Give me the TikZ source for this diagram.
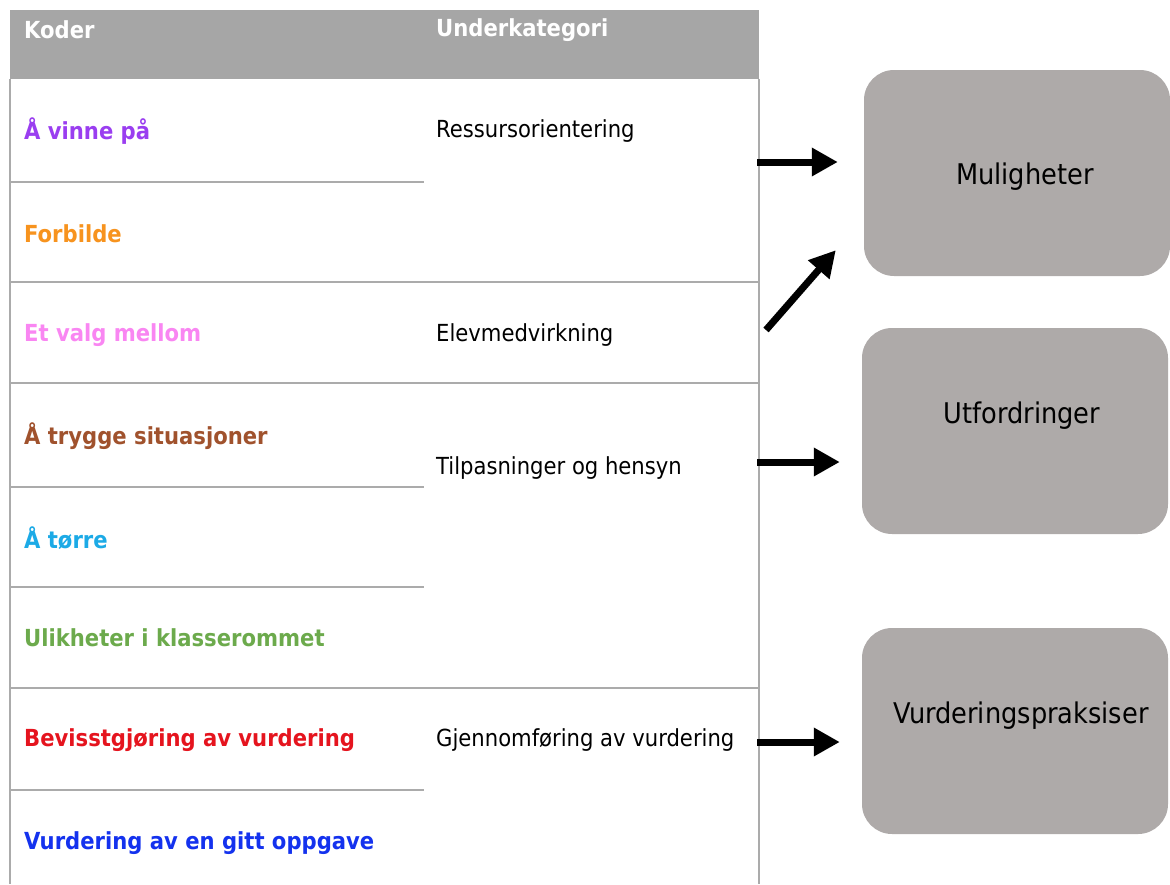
\documentclass[tikz,border=0pt]{standalone}
\usepackage{fontspec}
\setmainfont{DejaVu Sans Condensed}
\usepackage{xcolor}
\usetikzlibrary{arrows.meta}

\definecolor{hodegraa}{HTML}{A6A6A6}
\definecolor{linjegraa}{HTML}{ABABAB}
\definecolor{boksgraa}{HTML}{AEAAA9}
\definecolor{lilla}{HTML}{9A3EF0}
\definecolor{oransje}{HTML}{F7931E}
\definecolor{rosa}{HTML}{F986F2}
\definecolor{brun}{HTML}{A0522D}
\definecolor{turkis}{HTML}{1CAAE6}
\definecolor{groenn}{HTML}{6CAA4C}
\definecolor{roed}{HTML}{E5141E}
\definecolor{blaa}{HTML}{1432EE}

\tikzset{
  kode/.style={anchor=west, inner sep=0pt, font=\fontsize{23.5}{28}\selectfont\bfseries},
  under/.style={anchor=west, inner sep=0pt, font=\fontsize{23.5}{28}\selectfont},
  boks/.style={fill=boksgraa, rounded corners=30pt, minimum width=306pt, minimum height=206pt},
  bokstekst/.style={inner sep=0pt, font=\fontsize{28.5}{34}\selectfont},
  pil/.style={line width=7pt, -{Triangle[length=26pt,width=27pt]}}
}

\begin{document}
\begin{tikzpicture}[x=1pt,y=-1pt]
                \useasboundingbox (0,0) rectangle (1170,884);

                % tabell
                \fill[hodegraa] (10,10) rectangle (759,79);
                \draw[linjegraa, line width=1.5pt] (10,79) -- (10,884);
                \draw[linjegraa, line width=1.5pt] (759,79) -- (759,884);
                \draw[linjegraa, line width=2pt] (10,182) -- (424,182);
                \draw[linjegraa, line width=2pt] (10,282) -- (759,282);
                \draw[linjegraa, line width=2pt] (10,383) -- (759,383);
                \draw[linjegraa, line width=2pt] (10,487) -- (424,487);
                \draw[linjegraa, line width=2pt] (10,587) -- (424,587);
                \draw[linjegraa, line width=2pt] (10,688) -- (759,688);
                \draw[linjegraa, line width=2pt] (10,790) -- (424,790);

                \node[kode, white] (koder) at (24,30) {Koder};
                \node[kode, white] (underkat) at (436,30) {Underkategori};

                \node[kode, lilla] (k1) at (24,131) {Å vinne på};
                \node[kode, oransje] (k2) at (24,234) {Forbilde};
                \node[kode, rosa] (k3) at (24,335) {Et valg mellom};
                \node[kode, brun] (k4) at (24,436) {Å trygge situasjoner};
                \node[kode, turkis] (k5) at (24,538) {Å tørre};
                \node[kode, groenn] (k6) at (24,638) {Ulikheter i klasserommet};
                \node[kode, roed] (k7) at (24,740) {Bevisstgjøring av vurdering};
                \node[kode, blaa] (k8) at (24,843) {Vurdering av en gitt oppgave};

                \node[under] (u1) at (436,131) {Ressursorientering};
                \node[under] (u2) at (436,335) {Elevmedvirkning};
                \node[under] (u3) at (436,468) {Tilpasninger og hensyn};
                \node[under] (u4) at (436,740) {Gjennomføring av vurdering};

                % kategorier
                \node[boks] (mul) at (1017,173) {};
                \node[boks] (utf) at (1015,431) {};
                \node[boks] (vur) at (1015,731) {};
                \node[bokstekst] (mult) at ([shift={(8,4)}]mul.center) {Muligheter};
                \node[bokstekst] (utft) at ([shift={(7,-15)}]utf.center) {Utfordringer};
                \node[bokstekst] (vurt) at ([shift={(6,-15)}]vur.center) {Vurderingspraksiser};

                % piler
                \coordinate (p1) at (757,162);
                \coordinate (p2) at (766,330);
                \coordinate (p3) at (757,462);
                \coordinate (p4) at (757,742);
                \draw[pil, shorten >=26pt] (p1) -- (p1 -| mul.west);
                \draw[pil] (p2) -- ([shift={(-28,-26)}]mul.south west);
                \draw[pil, shorten >=22pt] (p3) -- (p3 -| utf.west);
                \draw[pil, shorten >=22pt] (p4) -- (p4 -| vur.west);
            \end{tikzpicture}
\end{document}
